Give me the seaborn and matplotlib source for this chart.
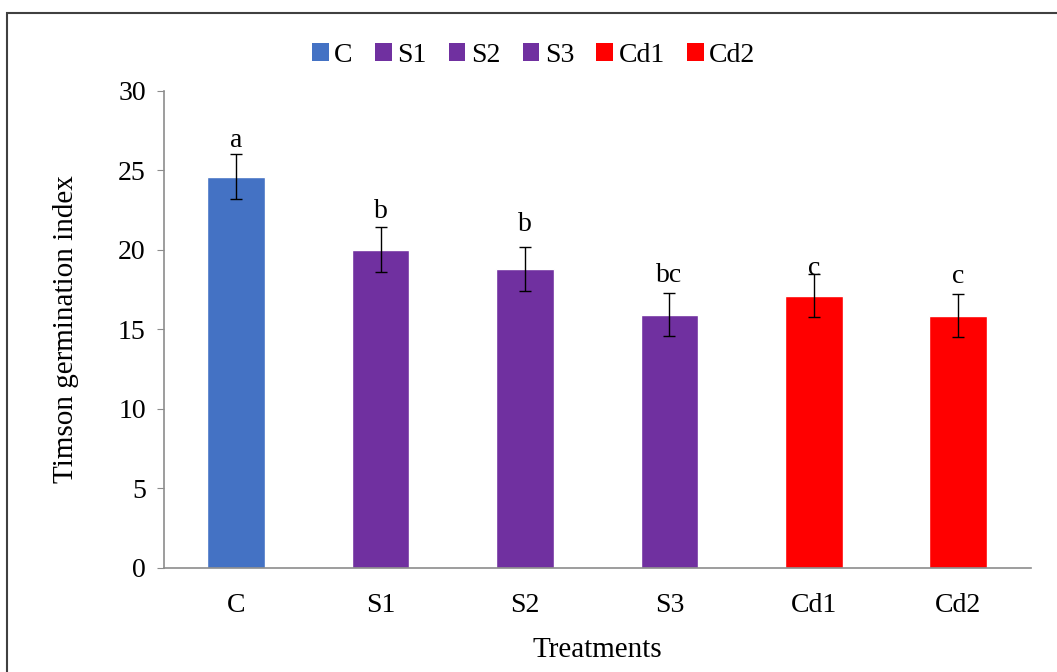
import matplotlib
matplotlib.use('Agg')
import matplotlib.pyplot as plt
import seaborn as sns
import pandas as pd
from matplotlib.patches import Rectangle, Patch

treatments = ['C', 'S1', 'S2', 'S3', 'Cd1', 'Cd2']
means = [24.6, 20.0, 18.8, 15.9, 17.1, 15.85]
errors = [1.4, 1.4, 1.4, 1.35, 1.35, 1.35]
letters = ['a', 'b', 'b', 'bc', 'c', 'c']
letter_y = [26.9, 22.4, 21.6, 18.4, 18.8, 18.3]
colors = ['#4472C4', '#7030A0', '#7030A0', '#7030A0', '#FF0000', '#FF0000']

df = pd.DataFrame({'Treatments': treatments, 'Timson': means})

sns.set_style('white')
plt.rcParams['font.family'] = ['Liberation Serif', 'DejaVu Serif']
plt.rcParams['text.color'] = 'black'
plt.rcParams['axes.labelcolor'] = 'black'
plt.rcParams['xtick.color'] = 'black'
plt.rcParams['ytick.color'] = 'black'

fig = plt.figure(figsize=(10.57, 6.72), dpi=100)
ax = fig.add_axes([0.155, 0.155, 0.82, 0.71])

sns.barplot(data=df, x='Treatments', y='Timson', hue='Treatments',
            palette=dict(zip(treatments, colors)), dodge=False, width=0.4,
            legend=False, ax=ax, saturation=1)
ax.errorbar(range(len(treatments)), means, yerr=errors, fmt='none',
            ecolor='black', elinewidth=1.0, capsize=4.5, capthick=1.0)

for i, (lab, ly) in enumerate(zip(letters, letter_y)):
    ax.text(i, ly, lab, ha='center', va='center', fontsize=20, color='black')

ax.set_ylim(0, 30)
ax.set_yticks(range(0, 31, 5))
ax.set_xlim(-0.5, len(treatments) - 0.5)
ax.set_xlabel('Treatments', fontsize=21, labelpad=14)
ax.set_ylabel('Timson germination index', fontsize=21, labelpad=28)
ax.tick_params(axis='y', labelsize=20, length=5, color='#8c8c8c', labelcolor='black',
               direction='out', left=True, pad=8)
ax.tick_params(axis='x', labelsize=20, length=0, pad=18, labelcolor='black')
for s in ['top', 'right']:
    ax.spines[s].set_visible(False)
for s in ['left', 'bottom']:
    ax.spines[s].set_color('#8c8c8c')
    ax.spines[s].set_linewidth(1.2)

handles = [Patch(facecolor=c, edgecolor='none', label=t) for t, c in zip(treatments, colors)]
fig.legend(handles=handles, loc='center', bbox_to_anchor=(0.505, 0.918), ncol=6,
           frameon=False, fontsize=20, handlelength=0.6, handleheight=0.6,
           handletextpad=0.2, columnspacing=0.8)

fig.patches.append(Rectangle((7 / 1057, -0.1), 1.2, 1 - 13 / 672 + 0.1,
                             transform=fig.transFigure, fill=False,
                             edgecolor='#404040', linewidth=1.5))

fig.savefig('out.png', dpi=100)
